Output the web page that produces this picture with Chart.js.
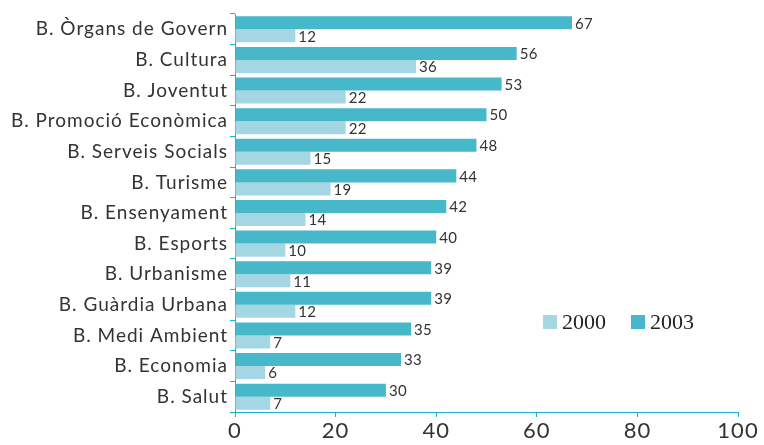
<!DOCTYPE html>
<html><head><meta charset="utf-8">
<script src="https://cdn.jsdelivr.net/npm/chart.js@4"></script>
<style>
html,body{margin:0;padding:0;background:#fff;}
#wrap{position:relative;width:764px;height:445px;}
.item{position:absolute;top:309px;font-family:"Liberation Serif",serif;font-size:22px;color:#222;display:flex;align-items:center;line-height:26px;}
.item i{display:inline-block;width:14px;height:14px;margin-right:5px;}
</style></head>
<body><div id="wrap"><canvas id="c" width="764" height="445"></canvas>
<span class="item" style="left:543px"><i style="background:#a5d6e3"></i>2000</span><span class="item" style="left:631px"><i style="background:#47b7ca"></i>2003</span></div>
<script>
const categories = ["B. Òrgans de Govern","B. Cultura","B. Joventut","B. Promoció Econòmica","B. Serveis Socials","B. Turisme","B. Ensenyament","B. Esports","B. Urbanisme","B. Guàrdia Urbana","B. Medi Ambient","B. Economia","B. Salut"];
const values2003 = [67,56,53,50,48,44,42,40,39,39,35,33,30];
const values2000 = [12,36,22,22,15,19,14,10,11,12,7,6,7];
const xTicks = [0,20,40,60,80,100];

const axisColor = '#1db0cc';
const labelFont = 'Lato, "Open Sans", sans-serif';

const spacing = {
  id:'spacing',
  beforeDraw(chart){ chart.ctx.letterSpacing = '1px'; },
  afterDraw(chart){ chart.ctx.letterSpacing = '0px'; }
};

const valueLabels = {
  id:'valueLabels',
  afterDatasetsDraw(chart){
    const ctx = chart.ctx;
    ctx.save();
    ctx.letterSpacing = '0.3px';
    ctx.font = '15px ' + labelFont;
    ctx.fillStyle = '#333';
    ctx.textBaseline = 'middle';
    ctx.textAlign = 'left';
    chart.data.datasets.forEach((ds,i)=>{
      chart.getDatasetMeta(i).data.forEach((bar,j)=>{
        ctx.fillText(String(ds.data[j]), bar.x + 3, bar.y + 1);
      });
    });
    ctx.restore();
  }
};

new Chart(document.getElementById('c'), {
  type:'bar',
  data:{
    labels:categories,
    datasets:[
      {label:'2003', data:values2003, backgroundColor:'#47b7ca', categoryPercentage:0.85, barPercentage:1.0},
      {label:'2000', data:values2000, backgroundColor:'#a5d6e3', categoryPercentage:0.85, barPercentage:1.0}
    ]
  },
  options:{
    indexAxis:'y',
    responsive:false,
    animation:false,
    layout:{padding:{top:14,right:26,left:0,bottom:0}},
    plugins:{legend:{display:false},tooltip:{enabled:false}},
    scales:{
      x:{
        min:0,max:100,
        afterBuildTicks(s){ s.ticks = xTicks.map(v=>({value:v})); },
        afterFit(s){ s.height = 33; },
        grid:{drawOnChartArea:false, color:axisColor, tickLength:5, tickColor:axisColor},
        border:{color:axisColor, width:1},
        ticks:{font:{family:labelFont,size:22}, color:'#333', padding:1, maxRotation:0}
      },
      y:{
        offset:true,
        afterFit(s){ s.width = 235; },
        grid:{offset:true, drawOnChartArea:false, color:axisColor, tickLength:5, tickColor:axisColor},
        border:{color:axisColor, width:1},
        ticks:{font:{family:labelFont,size:19}, color:'#333', padding:2, autoSkip:false}
      }
    }
  },
  plugins:[spacing, valueLabels]
});
</script></body></html>
